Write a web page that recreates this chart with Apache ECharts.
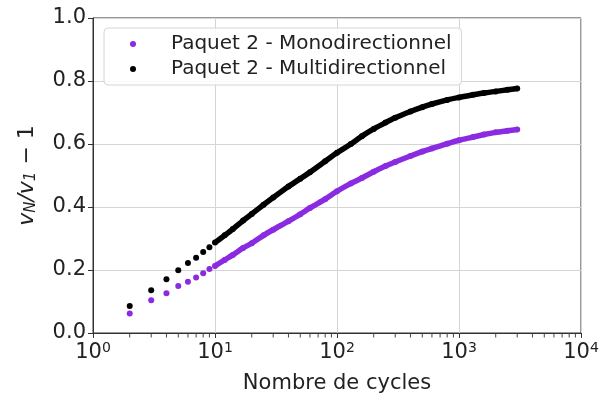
<!DOCTYPE html>
<html>
<head>
<meta charset="utf-8">
<script src="https://cdn.jsdelivr.net/npm/echarts@6/dist/echarts.min.js"></script>
<style>
  html, body { margin: 0; padding: 0; background: #fff; }
  #main { width: 610px; height: 400px; }
</style>
</head>
<body>
<div id="main"></div>
<script>
// cycles (N)
var cycles = [2, 3, 4, 5, 6, 7, 8, 9, 10, 12, 14, 17, 20, 25, 30, 40, 50, 60, 80, 100,
  130, 160, 200, 250, 300, 400, 500, 600, 800, 1000, 1300, 1600, 2000, 2500, 3000];
// Paquet 2 - Monodirectionnel
var mono = [0.062, 0.104, 0.126, 0.149, 0.163, 0.176, 0.190, 0.203, 0.213, 0.232, 0.248, 0.270, 0.285, 0.310, 0.328, 0.355, 0.377, 0.397, 0.425, 0.450,
  0.475, 0.492, 0.512, 0.530, 0.543, 0.562, 0.576, 0.586, 0.601, 0.612, 0.622, 0.630, 0.637, 0.642, 0.646];
// Paquet 2 - Multidirectionnel
var multi = [0.086, 0.136, 0.171, 0.199, 0.222, 0.239, 0.257, 0.272, 0.287, 0.310, 0.330, 0.357, 0.378, 0.407, 0.430, 0.465, 0.490, 0.510, 0.545, 0.572,
  0.600, 0.625, 0.648, 0.668, 0.683, 0.703, 0.717, 0.727, 0.740, 0.748, 0.756, 0.762, 0.767, 0.772, 0.776];
var names = ['Paquet 2 - Monodirectionnel', 'Paquet 2 - Multidirectionnel'];
// minor ticks of the log axis
var minorTicks = [2, 3, 4, 5, 6, 7, 8, 9, 20, 30, 40, 50, 60, 70, 80, 90,
  200, 300, 400, 500, 600, 700, 800, 900, 2000, 3000, 4000, 5000, 6000, 7000, 8000, 9000];

function pairs(vals, from) {
  var out = [];
  for (var i = 0; i < cycles.length; i++) {
    if (cycles[i] >= (from || 0)) out.push([cycles[i], vals[i]]);
  }
  return out;
}

var purple = '#8a2be2';
var txt = '#222';

var chart = echarts.init(document.getElementById('main'));
chart.setOption({
  animation: false,
  textStyle: { fontFamily: 'DejaVu Sans' },
  grid: { left: 93, right: 29, top: 18, bottom: 67, show: true, borderColor: '#333', borderWidth: 1 },
  legend: {
    orient: 'vertical',
    left: 104, top: 28,
    data: names,
    icon: 'circle',
    itemWidth: 6, itemHeight: 6,
    itemGap: 5,
    padding: [6, 10, 6, 26],
    borderColor: '#d6d6d6', borderWidth: 1, borderRadius: 4,
    backgroundColor: 'rgba(255,255,255,0.85)',
    textStyle: { fontSize: 20, color: txt, padding: [0, 0, 0, 30] }
  },
  xAxis: {
    type: 'log', logBase: 10, min: 1, max: 10000,
    name: 'Nombre de cycles', nameLocation: 'middle', nameGap: 40,
    nameTextStyle: { fontSize: 21, color: txt },
    axisLine: { lineStyle: { color: '#333' } },
    axisTick: { show: true, inside: false, length: 5, lineStyle: { color: '#333' } },
    axisLabel: {
      color: txt, fontSize: 21, margin: 8,
      formatter: function (v) { return '10{sup|' + Math.round(Math.log10(v)) + '}'; },
      rich: { sup: { fontSize: 14, verticalAlign: 'top', padding: [0, 0, 9, 0], color: txt } }
    },
    splitLine: { show: true, lineStyle: { color: '#d4d4d4', width: 1 } }
  },
  yAxis: {
    type: 'value', min: 0, max: 1, interval: 0.2,
    name: '{it|v}{sub|N}{it|/v}{sub|1}{n| − 1}', nameLocation: 'middle', nameGap: 54, nameRotate: 90,
    nameTextStyle: {
      color: txt,
      rich: {
        it: { fontSize: 22, fontStyle: 'italic', color: txt },
        sub: { fontSize: 15, fontStyle: 'italic', color: txt, padding: [9, 0, 0, 0] },
        n: { fontSize: 22, color: txt }
      }
    },
    axisLine: { show: true, lineStyle: { color: '#333' } },
    axisTick: { show: true, inside: false, length: 5, lineStyle: { color: '#333' } },
    axisLabel: { color: txt, fontSize: 21, margin: 7, formatter: function (v) { return v.toFixed(1); } },
    splitLine: { show: true, lineStyle: { color: '#d4d4d4', width: 1 } }
  },
  series: [
    {
      name: names[0], type: 'line', data: pairs(mono, 10), showSymbol: false, silent: true, smooth: 0.3,
      lineStyle: { color: purple, width: 5.5 }, itemStyle: { color: purple }, z: 2
    },
    {
      name: names[0], type: 'scatter', data: pairs(mono), symbolSize: 6,
      itemStyle: { color: purple, opacity: 1 }, z: 3
    },
    {
      name: names[1], type: 'line', data: pairs(multi, 10), showSymbol: false, silent: true, smooth: 0.3,
      lineStyle: { color: '#000', width: 5.5 }, itemStyle: { color: '#000' }, z: 4
    },
    {
      name: names[1], type: 'scatter', data: pairs(multi), symbolSize: 6,
      itemStyle: { color: '#000', opacity: 1 }, z: 5
    },
    {
      name: 'minor', type: 'scatter', silent: true, clip: false,
      data: minorTicks.map(function (t) { return [t, 0]; }),
      symbol: 'rect', symbolSize: [1, 4], symbolOffset: [0, 2.5],
      itemStyle: { color: '#444', opacity: 1 }, z: 1
    }
  ]
});
</script>
</body>
</html>
